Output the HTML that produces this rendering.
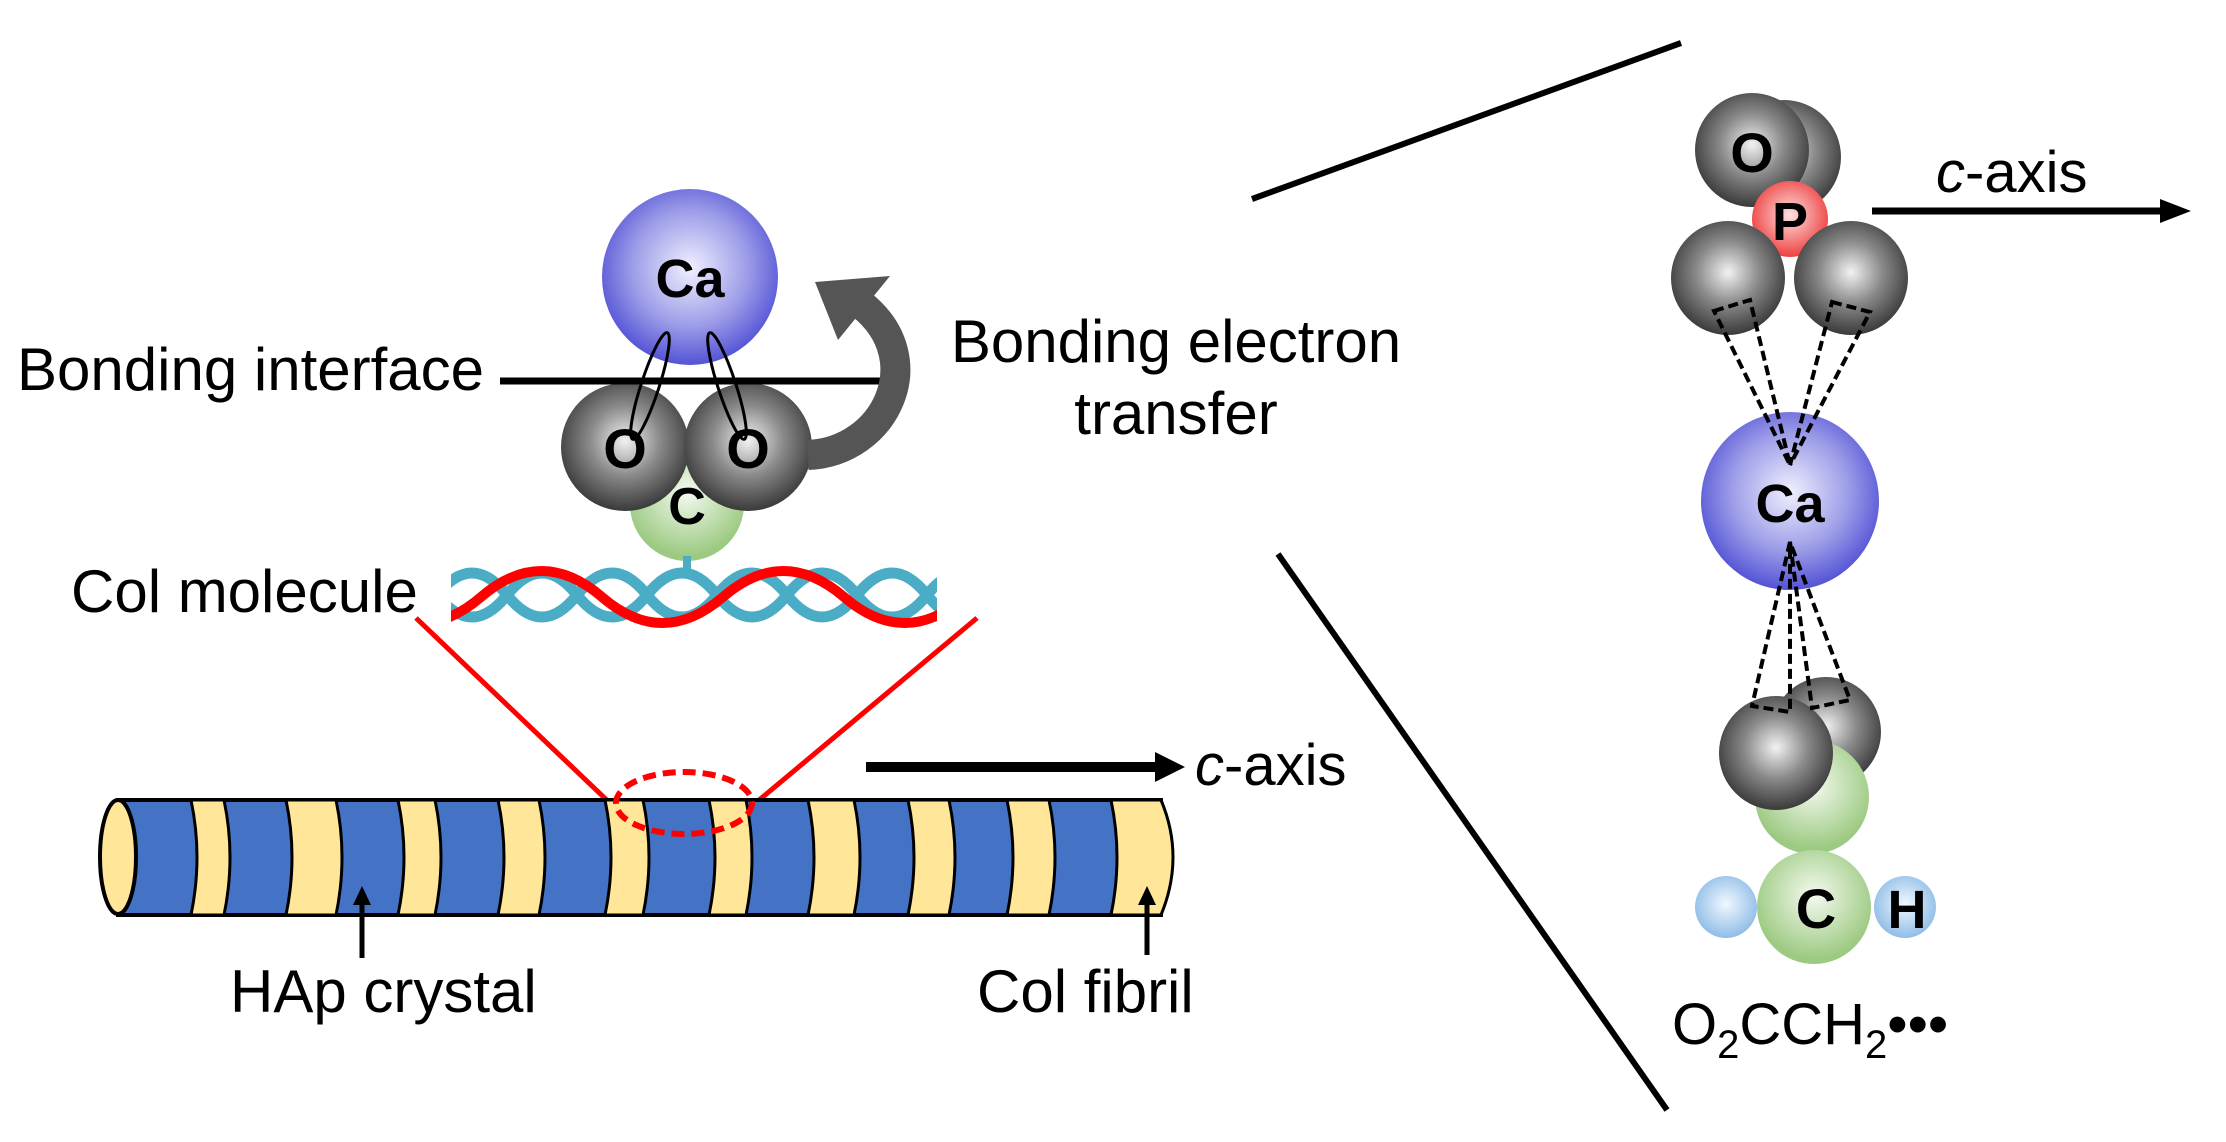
<!DOCTYPE html>
<html><head><meta charset="utf-8"><style>
html,body{margin:0;padding:0;background:#fff}
svg{display:block}
text{font-family:"Liberation Sans",sans-serif}
</style></head><body>
<svg width="2226" height="1142" viewBox="0 0 2226 1142" xmlns="http://www.w3.org/2000/svg">
<defs>
<radialGradient id="gGray" cx="50%" cy="45%" r="55%"><stop offset="0" stop-color="#f2f2f2"/><stop offset="0.5" stop-color="#8a8a8a"/><stop offset="1" stop-color="#3a3a3a"/></radialGradient>
<radialGradient id="gBlue" cx="50%" cy="45%" r="55%"><stop offset="0" stop-color="#f0f0ff"/><stop offset="0.6" stop-color="#9c9ce8"/><stop offset="1" stop-color="#5353d6"/></radialGradient>
<radialGradient id="gGreen" cx="50%" cy="40%" r="55%"><stop offset="0" stop-color="#f4faf0"/><stop offset="1" stop-color="#9dca82"/></radialGradient>
<radialGradient id="gRed" cx="50%" cy="45%" r="55%"><stop offset="0" stop-color="#ffe0e0"/><stop offset="1" stop-color="#ee4040"/></radialGradient>
<radialGradient id="gH" cx="50%" cy="45%" r="55%"><stop offset="0" stop-color="#f0f8ff"/><stop offset="1" stop-color="#8fbde6"/></radialGradient>
<clipPath id="hc"><rect x="451" y="540" width="486" height="100"/></clipPath>
</defs>

<circle cx="690" cy="277" r="88" fill="url(#gBlue)"/>
<text x="690" y="297" font-size="54" font-weight="bold" text-anchor="middle">Ca</text>
<circle cx="687" cy="504" r="57" fill="url(#gGreen)"/>
<circle cx="625" cy="447" r="64" fill="url(#gGray)"/>
<circle cx="748" cy="447" r="64" fill="url(#gGray)"/>
<text x="625" y="468" font-size="56" font-weight="bold" text-anchor="middle">O</text>
<text x="748" y="468" font-size="56" font-weight="bold" text-anchor="middle">O</text>
<text x="687" y="524" font-size="52" font-weight="bold" text-anchor="middle">C</text>
<line x1="500" y1="381" x2="888" y2="381" stroke="#000" stroke-width="7"/>
<ellipse cx="650" cy="386" rx="9" ry="56" transform="rotate(18 650 386)" fill="none" stroke="#000" stroke-width="3"/>
<ellipse cx="727" cy="386" rx="9" ry="56" transform="rotate(-18 727 386)" fill="none" stroke="#000" stroke-width="3"/>
<text x="17" y="390" font-size="60">Bonding interface</text>

<path d="M808,455 C885,452 930,360 862,305" fill="none" stroke="#555" stroke-width="30"/>
<polygon points="890,276 838,340 815,282" fill="#555"/>
<text x="1176" y="362" font-size="60" text-anchor="middle">Bonding electron</text>
<text x="1176" y="434" font-size="60" text-anchor="middle">transfer</text>

<text x="71" y="612" font-size="60">Col molecule</text>
<line x1="687" y1="556" x2="687" y2="578" stroke="#4bacc6" stroke-width="8"/>
<g clip-path="url(#hc)" fill="none">
<path d="M367,595 Q402,639 437,595 T507,595 T577,595 T647,595 T717,595 T787,595 T857,595 T927,595 T997,595" stroke="#4bacc6" stroke-width="11"/>
<path d="M367,595 Q402,551 437,595 T507,595 T577,595 T647,595 T717,595 T787,595 T857,595 T927,595 T997,595" stroke="#4bacc6" stroke-width="11"/>
<path d="M360,597 Q420.5,649 481,597 T602,597 T723,597 T844,597 T965,597" stroke="#ff0000" stroke-width="10"/>
</g>
<line x1="416" y1="618" x2="613" y2="806" stroke="#ff0000" stroke-width="5"/>
<line x1="977" y1="618" x2="752" y2="806" stroke="#ff0000" stroke-width="5"/>

<rect x="118" y="800" width="1043" height="115" fill="#4472c4" stroke="#000" stroke-width="4"/>
<g fill="#ffe699" stroke="#000" stroke-width="3">
<path d="M191,800 Q203,857 191,915 L224,915 Q236,857 224,800 Z"/>
<path d="M286,800 Q298,857 286,915 L336,915 Q348,857 336,800 Z"/>
<path d="M398,800 Q410,857 398,915 L435,915 Q447,857 435,800 Z"/>
<path d="M498,800 Q510,857 498,915 L539,915 Q551,857 539,800 Z"/>
<path d="M605,800 Q617,857 605,915 L643,915 Q655,857 643,800 Z"/>
<path d="M709,800 Q721,857 709,915 L746,915 Q758,857 746,800 Z"/>
<path d="M808,800 Q820,857 808,915 L854,915 Q866,857 854,800 Z"/>
<path d="M908,800 Q920,857 908,915 L949,915 Q961,857 949,800 Z"/>
<path d="M1007,800 Q1019,857 1007,915 L1049,915 Q1061,857 1049,800 Z"/>
<path d="M1111,800 Q1123,857 1111,915 L1161,915 Q1185,857 1161,800 Z"/>
</g>
<ellipse cx="118" cy="857" rx="18" ry="57" fill="#ffe699" stroke="#000" stroke-width="4"/>
<ellipse cx="684" cy="803" rx="68" ry="31" fill="none" stroke="#ff0000" stroke-width="6" stroke-dasharray="13,7"/>

<line x1="866" y1="767" x2="1160" y2="767" stroke="#000" stroke-width="10"/>
<polygon points="1155,752 1185,767 1155,782" fill="#000"/>
<text x="1195" y="785" font-size="58"><tspan font-style="italic">c</tspan>-axis</text>

<line x1="362" y1="958" x2="362" y2="905" stroke="#000" stroke-width="5"/>
<polygon points="353,905 362,886 371,905" fill="#000"/>
<text x="230" y="1012" font-size="60">HAp crystal</text>
<line x1="1147" y1="955" x2="1147" y2="905" stroke="#000" stroke-width="5"/>
<polygon points="1138,905 1147,886 1156,905" fill="#000"/>
<text x="977" y="1012" font-size="60">Col fibril</text>

<line x1="1252" y1="199" x2="1681" y2="43" stroke="#000" stroke-width="6"/>
<line x1="1278" y1="554" x2="1667" y2="1110" stroke="#000" stroke-width="6"/>

<circle cx="1784" cy="157" r="57" fill="url(#gGray)"/>
<circle cx="1752" cy="150" r="57" fill="url(#gGray)"/>
<text x="1752" y="172" font-size="56" font-weight="bold" text-anchor="middle">O</text>
<circle cx="1790" cy="219" r="38" fill="url(#gRed)"/>
<text x="1790" y="240" font-size="54" font-weight="bold" text-anchor="middle">P</text>
<circle cx="1728" cy="278" r="57" fill="url(#gGray)"/>
<circle cx="1851" cy="278" r="57" fill="url(#gGray)"/>
<circle cx="1790" cy="501" r="89" fill="url(#gBlue)"/>
<text x="1790" y="522" font-size="54" font-weight="bold" text-anchor="middle">Ca</text>
<g fill="none" stroke="#000" stroke-width="4" stroke-dasharray="10,5">
<path d="M1714,311 L1750,300 L1790,465 Z"/>
<path d="M1832,302 L1870,312 L1790,465 Z"/>
</g>
<circle cx="1826" cy="732" r="55" fill="url(#gGray)"/>
<circle cx="1812" cy="797" r="57" fill="url(#gGreen)"/>
<circle cx="1776" cy="753" r="57" fill="url(#gGray)"/>
<g fill="none" stroke="#000" stroke-width="4" stroke-dasharray="10,5">
<path d="M1790,542 L1752,706 L1790,712 Z"/>
<path d="M1790,542 L1812,708 L1850,700 Z"/>
</g>
<circle cx="1726" cy="907" r="31" fill="url(#gH)"/>
<circle cx="1905" cy="907" r="31" fill="url(#gH)"/>
<circle cx="1814" cy="907" r="57" fill="url(#gGreen)"/>
<text x="1816" y="928" font-size="56" font-weight="bold" text-anchor="middle">C</text>
<text x="1907" y="928" font-size="54" font-weight="bold" text-anchor="middle">H</text>
<text x="1672" y="1044" font-size="58">O<tspan font-size="40" dy="14">2</tspan><tspan dy="-14">CCH</tspan><tspan font-size="40" dy="14">2</tspan><tspan dy="-14">•••</tspan></text>

<line x1="1872" y1="211" x2="2165" y2="211" stroke="#000" stroke-width="7"/>
<polygon points="2160,199 2191,211 2160,223" fill="#000"/>
<text x="1936" y="192" font-size="58"><tspan font-style="italic">c</tspan>-axis</text>
</svg>
</body></html>
